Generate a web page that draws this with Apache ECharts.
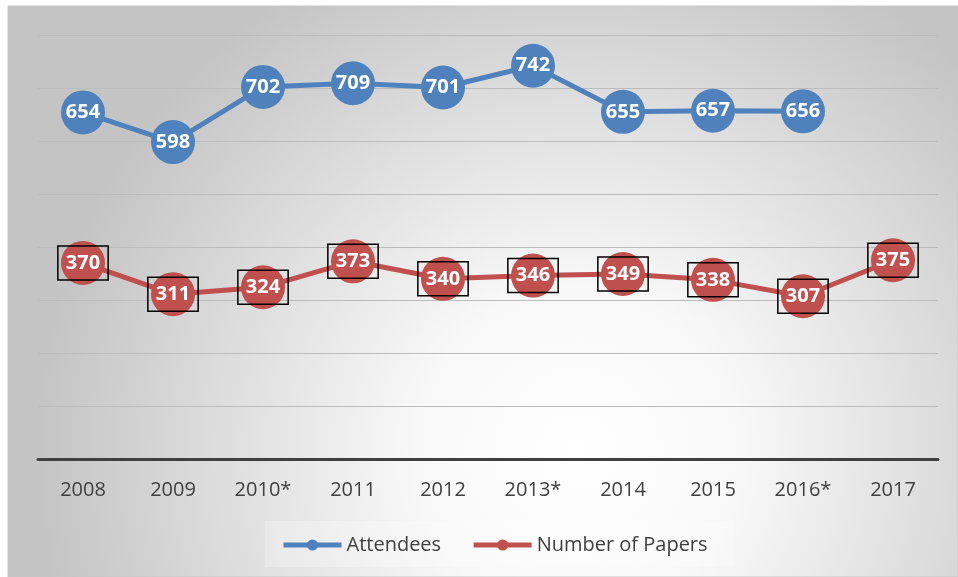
<!DOCTYPE html>
<html>
<head>
<meta charset="utf-8">
<script src="https://cdn.jsdelivr.net/npm/echarts@6/dist/echarts.min.js"></script>
<style>
  html, body { margin: 0; padding: 0; background: #fff; }
  #chart { width: 958px; height: 577px; }
</style>
</head>
<body>
<div id="chart"></div>
<script>
// --- data -------------------------------------------------------------------
const years = ["2008", "2009", "2010*", "2011", "2012", "2013*", "2014", "2015", "2016*", "2017"];
const attendees = [654, 598, 702, 709, 701, 742, 655, 657, 656, null];
const papers = [370, 311, 324, 373, 340, 346, 349, 338, 307, 375];

// --- palette ----------------------------------------------------------------
const C = {
  blue: "#4f81bd",
  red: "#c0504d",
  ink: "#404040",
  grid: "#bcbcbc",
  axis: "#404040",
};
const FONT = '"Open Sans", "Liberation Sans", sans-serif';

const pointLabel = {
  show: true,
  position: "inside",
  color: "#fff",
  fontFamily: FONT,
  fontWeight: "bold",
  fontSize: 20,
};

const chart = echarts.init(document.getElementById("chart"), null, { renderer: "canvas" });

chart.setOption({
  backgroundColor: "#fff",
  animation: false,
  graphic: [{
    type: "rect",
    z: -10,
    silent: true,
    shape: { x: 8, y: 6, width: 950, height: 571 },
    style: {
      fill: {
        type: "radial", x: 0.6, y: 0.78, r: 0.95,
        colorStops: [
          { offset: 0, color: "#ffffff" },
          { offset: 0.3, color: "#f8f8f8" },
          { offset: 1, color: "#c4c4c4" },
        ],
      },
      stroke: "#c6c6c6",
      lineWidth: 1,
    },
  }, {
    type: "rect",
    z: -5,
    silent: true,
    shape: { x: 265, y: 521, width: 468, height: 46 },
    style: { fill: "rgba(255,255,255,0.25)" },
  }],
  grid: { left: 38, right: 20, top: 35, bottom: 118 },
  legend: {
    left: 276,
    top: 530,
    itemWidth: 58,
    itemHeight: 14,
    itemGap: 30,
    lineStyle: { width: 5 },
    textStyle: { color: C.ink, fontFamily: FONT, fontSize: 20 },
    data: ["Attendees", "Number of Papers"],
  },
  xAxis: {
    type: "category",
    data: years,
    axisLine: { lineStyle: { color: C.axis, width: 3 } },
    axisTick: { show: false },
    axisLabel: { color: C.ink, fontFamily: FONT, fontSize: 20, margin: 21 },
  },
  yAxis: {
    type: "value",
    min: 0,
    max: 800,
    interval: 100,
    axisLine: { show: false },
    axisTick: { show: false },
    axisLabel: { show: false },
    splitLine: { lineStyle: { color: C.grid, width: 1.2 } },
  },
  series: [
    {
      name: "Attendees",
      type: "line",
      data: attendees,
      symbol: "circle",
      symbolSize: 44,
      itemStyle: { color: C.blue },
      lineStyle: { color: C.blue, width: 5 },
      label: { ...pointLabel },
    },
    {
      name: "Number of Papers",
      type: "line",
      data: papers,
      symbol: "circle",
      symbolSize: 44,
      itemStyle: { color: C.red },
      lineStyle: { color: C.red, width: 5 },
      label: {
        ...pointLabel,
        borderColor: "#000",
        borderWidth: 1.5,
        padding: [7, 8, 7, 8],
      },
    },
  ],
});
</script>
</body>
</html>
